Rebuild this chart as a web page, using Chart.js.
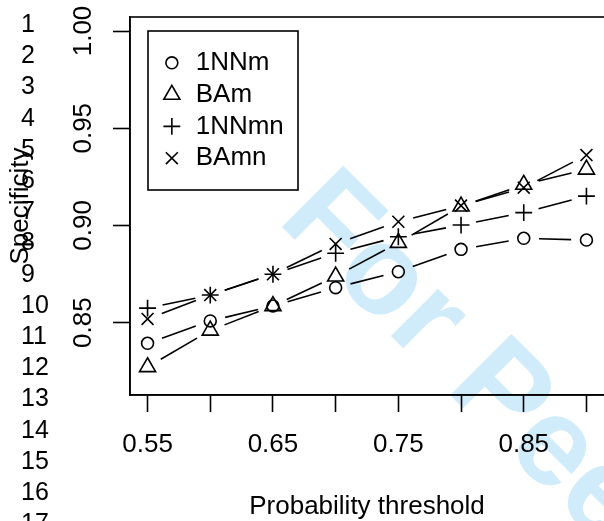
<!DOCTYPE html>
<html><head><meta charset="utf-8">
<script src="https://cdn.jsdelivr.net/npm/chart.js@4.4.1/dist/chart.umd.min.js"></script>
<style>html,body{margin:0;padding:0;background:#fff;overflow:hidden}canvas{display:block}</style>
</head><body>
<canvas id="c" width="604" height="521"></canvas>
<script>
// ---------- data ----------
const thresholds = [0.55, 0.60, 0.65, 0.70, 0.75, 0.80, 0.85, 0.90];
const seriesNames = ['1NNm', 'BAm', '1NNmn', 'BAmn'];
const spec1NNm  = [0.8394, 0.8509, 0.8586, 0.8680, 0.8762, 0.8877, 0.8934, 0.8925];
const specBAm   = [0.8272, 0.8460, 0.8586, 0.8738, 0.8911, 0.9098, 0.9210, 0.9288];
const spec1NNmn = [0.8575, 0.8642, 0.8749, 0.8857, 0.8942, 0.9002, 0.9066, 0.9151];
const specBAmn  = [0.8519, 0.8642, 0.8749, 0.8905, 0.9019, 0.9102, 0.9194, 0.9362];
const xTickValues = [0.55, 0.60, 0.65, 0.70, 0.75, 0.80, 0.85, 0.90];
const xTickLabels = ['0.55', '', '0.65', '', '0.75', '', '0.85', ''];
const yTickValues = [0.85, 0.90, 0.95, 1.00];
const yTickLabels = ['0.85', '0.90', '0.95', '1.00'];
const xTitle = 'Probability threshold';
const yTitle = 'Specificity';
const lineNumbers = ['1','2','3','4','5','6','7','8','9','10','11','12','13','14','15','16','17'];
const watermarkText = 'For Peer Review';

// ---------- styles ----------
const FONT = '"Liberation Sans", Arial, Helvetica, sans-serif';
const markerStyles = [
  { pointStyle: 'circle',   radius: 5.96 },
  { pointStyle: 'triangle', radius: 9.27 },
  { pointStyle: 'cross',    radius: 8.43 },
  { pointStyle: 'crossRot', radius: 8.43 }
];
const LW = 1.6;
const GAP = 15.3;

const seriesValues = [spec1NNm, specBAm, spec1NNmn, specBAmn];

function drawSymbol(ctx, style, r, x, y) {
  ctx.beginPath();
  if (style === 'circle') {
    ctx.arc(x, y, r, 0, Math.PI * 2);
  } else if (style === 'triangle') {
    for (let k = 0; k < 3; k++) {
      const a = k * 2 * Math.PI / 3;
      const px = x + Math.sin(a) * r, py = y - Math.cos(a) * r;
      if (k === 0) ctx.moveTo(px, py); else ctx.lineTo(px, py);
    }
    ctx.closePath();
  } else if (style === 'cross') {
    ctx.moveTo(x - r, y); ctx.lineTo(x + r, y);
    ctx.moveTo(x, y - r); ctx.lineTo(x, y + r);
  } else if (style === 'crossRot') {
    const d = r * Math.SQRT1_2;
    ctx.moveTo(x - d, y - d); ctx.lineTo(x + d, y + d);
    ctx.moveTo(x - d, y + d); ctx.lineTo(x + d, y - d);
  }
  ctx.stroke();
}

const watermarkPlugin = {
  id: 'watermark',
  beforeDraw(chart) {
    const ctx = chart.ctx;
    ctx.save();
    ctx.translate(276, 221);
    ctx.rotate(Math.PI / 4);
    ctx.font = 'bold 126px ' + FONT;
    ctx.fillStyle = 'rgb(208,236,251)';
    ctx.textBaseline = 'alphabetic';
    ctx.textAlign = 'left';
    ctx.fillText(watermarkText, 0, 0);
    ctx.restore();
  }
};

const gapLinesPlugin = {
  id: 'gapLines',
  afterDatasetsDraw(chart) {
    const ctx = chart.ctx;
    ctx.save();
    ctx.strokeStyle = '#000';
    ctx.lineWidth = LW;
    chart.data.datasets.forEach((ds, i) => {
      const pts = chart.getDatasetMeta(i).data;
      for (let j = 0; j < pts.length - 1; j++) {
        const a = pts[j], b = pts[j + 1];
        const dx = b.x - a.x, dy = b.y - a.y;
        const d = Math.hypot(dx, dy);
        if (d <= 2 * GAP) continue;
        const ux = dx / d, uy = dy / d;
        ctx.beginPath();
        ctx.moveTo(a.x + ux * GAP, a.y + uy * GAP);
        ctx.lineTo(b.x - ux * GAP, b.y - uy * GAP);
        ctx.stroke();
      }
    });
    ctx.restore();
  }
};

const boxPlugin = {
  id: 'plotBox',
  afterDatasetsDraw(chart) {
    const { ctx, chartArea: a } = chart;
    ctx.save();
    ctx.strokeStyle = '#000';
    ctx.lineWidth = LW;
    // the right edge of the R plot box lies just outside the picture
    ctx.strokeRect(a.left, a.top, a.right - a.left + 3, a.bottom - a.top);
    ctx.restore();
  }
};

const legendBoxPlugin = {
  id: 'legendBox',
  afterDraw(chart) {
    const { ctx, chartArea: a } = chart;
    const left = a.left + 18, top = a.top + 14;
    const w = 150, rowH = 31.8;
    ctx.save();
    ctx.strokeStyle = '#000';
    ctx.lineWidth = LW;
    ctx.strokeRect(left, top, w, rowH * (seriesNames.length + 1));
    ctx.font = '26px ' + FONT;
    ctx.fillStyle = '#000';
    ctx.textBaseline = 'middle';
    ctx.textAlign = 'left';
    seriesNames.forEach((name, i) => {
      const y = top + rowH * (i + 1);
      drawSymbol(ctx, markerStyles[i].pointStyle, markerStyles[i].radius, left + 23.85, y);
      ctx.fillText(name, left + 47.7, y);
    });
    ctx.restore();
  }
};

const lineNumberPlugin = {
  id: 'lineNumbers',
  afterDraw(chart) {
    const ctx = chart.ctx;
    ctx.save();
    ctx.font = '25px ' + FONT;
    ctx.fillStyle = '#000';
    ctx.textBaseline = 'alphabetic';
    ctx.textAlign = 'left';
    lineNumbers.forEach((t, i) => ctx.fillText(t, 21, 32 + i * 31.2));
    ctx.restore();
  }
};

Chart.defaults.font.family = FONT;
Chart.defaults.color = '#000';

new Chart(document.getElementById('c'), {
  type: 'scatter',
  data: {
    datasets: seriesNames.map((name, i) => ({
      label: name,
      data: thresholds.map((x, j) => ({ x: x, y: seriesValues[i][j] })),
      showLine: false,
      pointStyle: markerStyles[i].pointStyle,
      pointRadius: markerStyles[i].radius,
      pointHoverRadius: markerStyles[i].radius,
      pointBorderColor: '#000',
      pointBackgroundColor: 'rgba(0,0,0,0)',
      pointBorderWidth: LW,
      clip: false
    }))
  },
  options: {
    responsive: false,
    animation: false,
    devicePixelRatio: 1,
    events: [],
    layout: { autoPadding: false, padding: { top: 17, right: 0, bottom: 0, left: 0 } },
    plugins: { legend: { display: false }, tooltip: { enabled: false } },
    scales: {
      x: {
        type: 'linear', position: 'bottom', min: 0.536, max: 0.914,
        afterBuildTicks: s => { s.ticks = xTickValues.map(v => ({ value: v })); },
        afterFit: s => { s.height = 126; s.paddingLeft = 0; s.paddingRight = 0; },
        ticks: {
          autoSkip: false, maxRotation: 0, minRotation: 0, padding: 17,
          font: { size: 26 }, color: '#000',
          callback: v => { const k = xTickValues.findIndex(t => Math.abs(t - v) < 1e-9); return k >= 0 ? xTickLabels[k] : ''; }
        },
        grid: { drawOnChartArea: false, drawTicks: true, tickLength: 17, tickColor: '#000', tickWidth: LW },
        border: { display: true, color: '#000', width: LW },
        title: { display: true, text: xTitle, font: { size: 26, lineHeight: 1.1 }, color: '#000', padding: { top: 0, bottom: 0 } }
      },
      y: {
        type: 'linear', position: 'left', min: 0.8128, max: 1.0072,
        afterBuildTicks: s => { s.ticks = yTickValues.map(v => ({ value: v })); },
        afterFit: s => { s.width = 130; s.paddingTop = 0; s.paddingBottom = 0; },
        ticks: {
          autoSkip: false, minRotation: 90, maxRotation: 90, crossAlign: 'center', padding: 4,
          font: { size: 26 }, color: '#000',
          callback: v => { const k = yTickValues.findIndex(t => Math.abs(t - v) < 1e-9); return k >= 0 ? yTickLabels[k] : ''; }
        },
        grid: { drawOnChartArea: false, drawTicks: true, tickLength: 17, tickColor: '#000', tickWidth: LW },
        border: { display: true, color: '#000', width: LW },
        title: { display: true, text: yTitle, font: { size: 26 }, color: '#000', padding: { top: 5, bottom: 0 } }
      }
    }
  },
  plugins: [watermarkPlugin, gapLinesPlugin, boxPlugin, legendBoxPlugin, lineNumberPlugin]
});
</script>
</body></html>
